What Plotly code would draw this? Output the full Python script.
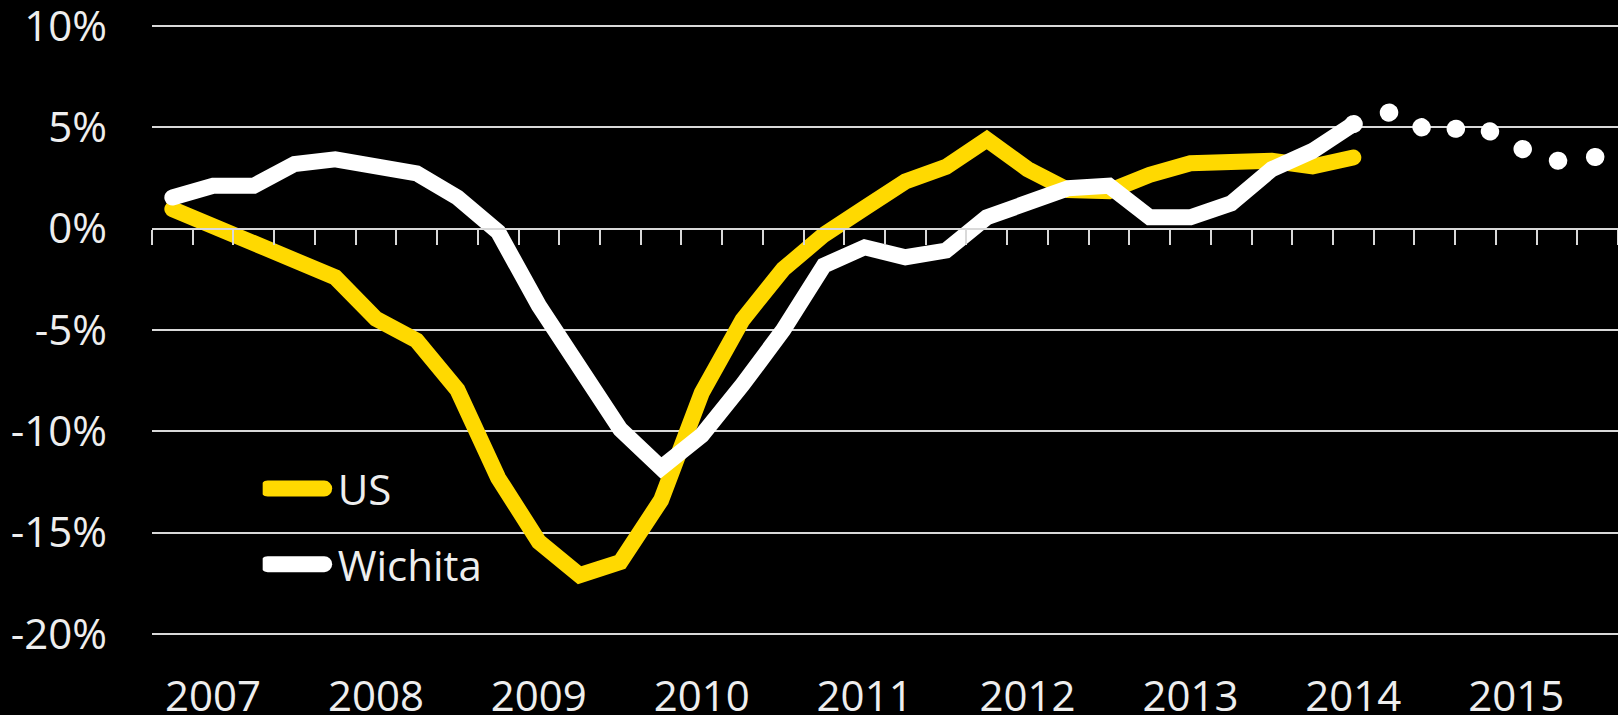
import plotly.graph_objects as go

# Quarterly categories 2007 Q1 .. 2015 Q4 (36 slots); year label sits on Q2 of each year
years = ["2007", "2008", "2009", "2010", "2011", "2012", "2013", "2014", "2015"]
quarters = list(range(36))

us = [0.97, 0.15, -0.79, -1.41, -2.4, -4.45, -5.52, -7.95, -12.3, -15.45,
      -17.1, -16.45, -13.4, -8.1, -4.5, -2.0, -0.3, 1.02, 2.33, 3.05,
      4.4, 2.94, 1.9, 1.85, 2.66, 3.23, 3.30, 3.35, 3.07, 3.51]
wichita = [1.54, 2.12, 2.12, 3.19, 3.42, 3.15, 2.73, 1.54, -0.16, -3.8,
           -6.9, -9.9, -11.8, -10.2, -7.7, -5.0, -1.82, -0.92, -1.41, -1.08,
           0.56, 1.22, 2.0, 2.12, 0.56, 0.56, 1.25, 2.94, 3.84, 5.16]
wichita_forecast = [5.16, 5.81, 4.62, 5.22, 4.04, 3.35, 3.55]

y_ticks = [10, 5, 0, -5, -10, -15, -20]
y_labels = ["10%", "5%", "0%", "-5%", "-10%", "-15%", "-20%"]

x_us = quarters[:len(us)]
x_wi = quarters[:len(wichita)]
x_fc = quarters[len(wichita) - 1:len(wichita) - 1 + len(wichita_forecast)]

YELLOW = "#FFD900"
WHITE = "#FFFFFF"
GRID = "#D9D9D9"
TEXT = "#EEEEEE"
FONT = "'Open Sans', Lato, sans-serif"
FS = 42

Y_MIN, Y_MAX = -20.05, 10.05

fig = go.Figure()
fig.add_trace(go.Scatter(x=x_us, y=us, mode="lines", name="US",
                         line=dict(color=YELLOW, width=16), legendgroup="a",
                         hoverinfo="skip"))
fig.add_trace(go.Scatter(x=x_wi, y=wichita, mode="lines", name="Wichita",
                         line=dict(color=WHITE, width=16), legendgroup="b",
                         hoverinfo="skip"))
fig.add_trace(go.Scatter(x=x_fc, y=wichita_forecast, mode="lines", name="Wichita forecast",
                         line=dict(color=WHITE, width=18, dash="0.5px,36.8px"),
                         showlegend=False, hoverinfo="skip"))
# invisible trace to carry the zero-line category axis
fig.add_trace(go.Scatter(x=[quarters[0]], y=[0], xaxis="x2", mode="markers",
                         marker=dict(opacity=0), showlegend=False, hoverinfo="skip"))

year_pos = [quarters[1 + 4 * k] for k in range(len(years))]
boundaries = [q - 0.5 for q in quarters] + [quarters[-1] + 0.5]

fig.update_layout(
    width=1618, height=715,
    paper_bgcolor="black", plot_bgcolor="black",
    margin=dict(l=152, r=0, t=25, b=80, autoexpand=False),
    font=dict(family=FONT, color=TEXT, size=FS),
    xaxis=dict(range=[-0.5, 35.5], tickvals=year_pos, ticktext=years,
               showgrid=False, zeroline=False, showline=False, ticks="",
               automargin=False, ticklabeloverflow="allow",
               ticklabelstandoff=33, tickfont=dict(size=FS, color=TEXT, family=FONT)),
    xaxis2=dict(range=[-0.5, 35.5], overlaying="x", anchor="free",
                position=(0 - Y_MIN) / (Y_MAX - Y_MIN), side="bottom",
                showline=True, linecolor=GRID,
                linewidth=2, ticks="outside", ticklen=15, tickwidth=2,
                tickcolor=GRID, tickvals=boundaries, showticklabels=False,
                showgrid=False, zeroline=False, automargin=False),
    yaxis=dict(range=[Y_MIN, Y_MAX], tickvals=y_ticks, ticktext=y_labels,
               showgrid=True, gridcolor=GRID, gridwidth=2, zeroline=False,
               showline=False, ticks="", ticklabelstandoff=44,
               automargin=False, ticklabeloverflow="allow",
               tickfont=dict(size=FS, color=TEXT, family=FONT)),
    legend=dict(x=0.0755, y=0.2955, xanchor="left", yanchor="top",
                bgcolor="rgba(0,0,0,0)", font=dict(size=FS, color=TEXT, family=FONT),
                traceorder="grouped", tracegroupgap=18, itemwidth=65),
    showlegend=True,
)

post = """
document.documentElement.style.margin = '0';
document.body.style.margin = '0';
document.body.style.overflow = 'hidden';
var gd = document.getElementById('{plot_id}');
function roundCaps(){
  gd.querySelectorAll('.scatterlayer .js-line').forEach(function(p){
    p.style.strokeLinecap = 'round';
  });
  gd.querySelectorAll('.legend .js-line').forEach(function(p){
    p.style.strokeLinecap = 'round';
    p.style.strokeWidth = '16px';
    if (!p.getAttribute('data-short')) {
      var d = p.getAttribute('d') || '';
      var nd = d.replace(/h(-?[\\d.]+)/, function(m, n){ return 'h' + (parseFloat(n) - 8.5); });
      p.setAttribute('d', nd);
      p.setAttribute('data-short', '1');
    }
  });
}
roundCaps();
gd.on('plotly_afterplot', roundCaps);
"""

fig.write_html("out.html", post_script=post, config={"displayModeBar": False})
